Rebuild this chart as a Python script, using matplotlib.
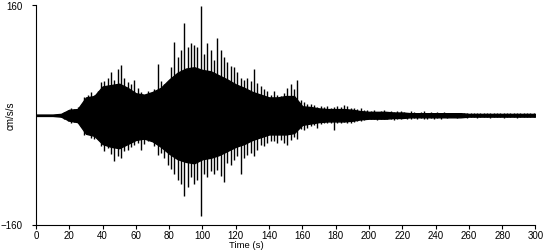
import numpy as np
import matplotlib.pyplot as plt

# peak amplitudes (cm/s/s) read per 2-second window, window start times in s
t_win = np.arange(0, 300, 2)
amp_hi = [1, 1, 1, 1, 1, 1, 1, 2, 5, 8,
          10, 9, 12, 10, 26, 30, 34, 30, 36, 48,
          50, 55, 63, 52, 68, 73, 55, 48, 46, 52,
          40, 34, 30, 36, 28, 38, 75, 50, 45, 48,
          70, 107, 85, 95, 134, 100, 105, 102, 100, 159,
          90, 105, 95, 80, 112, 95, 85, 78, 72, 70,
          63, 55, 52, 55, 50, 68, 47, 42, 38, 35,
          30, 35, 30, 28, 33, 40, 45, 38, 51, 22,
          20, 17, 16, 15, 12, 13, 12, 13, 10, 12,
          14, 12, 15, 13, 11, 10, 9, 10, 8, 7,
          6, 7, 5, 6, 7, 5, 6, 5, 6, 6,
          5, 4, 6, 5, 4, 5, 6, 4, 5, 4,
          5, 4, 5, 4, 3, 4, 3, 4, 3, 3,
          4, 3, 3, 4, 3, 3, 3, 4, 3, 3,
          3, 4, 3, 3, 3, 4, 3, 3, 4, 3]
amp_lo = [-1, -1, -1, -1, -1, -1, -1, -2, -5, -9,
          -12, -10, -11, -15, -29, -26, -33, -35, -32, -45,
          -52, -48, -56, -66, -60, -63, -52, -50, -47, -44,
          -40, -50, -42, -38, -36, -45, -58, -55, -62, -73,
          -78, -85, -95, -100, -117, -105, -90, -100, -95, -147,
          -85, -90, -82, -85, -80, -88, -97, -70, -73, -65,
          -60, -85, -62, -58, -55, -60, -51, -43, -45, -40,
          -38, -37, -41, -36, -40, -43, -36, -32, -34, -20,
          -22, -18, -16, -14, -18, -13, -12, -12, -11, -22,
          -12, -11, -10, -12, -11, -10, -9, -8, -7, -6,
          -6, -5, -7, -5, -6, -6, -5, -7, -5, -6,
          -4, -5, -6, -4, -5, -4, -6, -5, -4, -5,
          -4, -5, -3, -4, -3, -3, -4, -3, -3, -4,
          -3, -3, -4, -3, -3, -3, -4, -3, -3, -3,
          -4, -3, -3, -3, -4, -3, -3, -3, -3, -3]

# solid body of the record (cm/s/s), read every 5 s
t_core = np.arange(0, 301, 5)
core_hi = [1, 1, 1, 2, 8, 9, 26, 28, 42, 44,
           46, 40, 32, 30, 34, 40, 52, 62, 68, 70,
           66, 64, 58, 52, 45, 40, 34, 30, 26, 26,
           28, 28, 13, 12, 10, 9, 9, 9, 8, 6,
           5, 5, 5, 4, 4, 3, 3, 3, 3, 3,
           3, 3, 2, 2, 2, 2, 2, 2, 2, 2, 2]
core_lo = [-1, -1, -1, -2, -8, -10, -27, -30, -42, -46,
           -48, -42, -36, -34, -38, -46, -56, -64, -68, -70,
           -64, -62, -58, -52, -46, -42, -36, -32, -28, -28,
           -28, -26, -14, -12, -10, -9, -9, -9, -8, -6,
           -5, -5, -5, -4, -4, -3, -3, -3, -3, -3,
           -3, -3, -2, -2, -2, -2, -2, -2, -2, -2, -2]

plt.rcParams['font.family'] = ['Liberation Sans', 'DejaVu Sans']

fig = plt.figure(figsize=(5.5, 2.5), dpi=100)
ax = fig.add_axes([0.0655, 0.1, 0.908, 0.878])
ax.fill_between(t_core, core_lo, core_hi, color='black', linewidth=1.0)
ax.vlines(t_win + 1, amp_lo, amp_hi, color='black', linewidth=1.0)

ax.set_xlim(0, 300)
ax.set_ylim(-160, 160)
ax.set_xticks(np.arange(0, 301, 20))
ax.set_yticks([-160, 160])
ax.spines['top'].set_visible(False)
ax.spines['right'].set_visible(False)
for s in ['left', 'bottom']:
    ax.spines[s].set_linewidth(0.8)
ax.tick_params(direction='out', length=3, width=0.8, labelsize=7)
ax.tick_params(axis='x', pad=1)
ax.tick_params(axis='y', pad=6.5)
ax.set_xlabel('Time (s)', fontsize=6.8, va='top')
ax.xaxis.set_label_coords(0.422, -0.075)
ax.set_ylabel('cm/s/s', fontsize=7)
ax.yaxis.set_label_coords(-0.04, 0.5)

fig.savefig('out.png', dpi=100)
